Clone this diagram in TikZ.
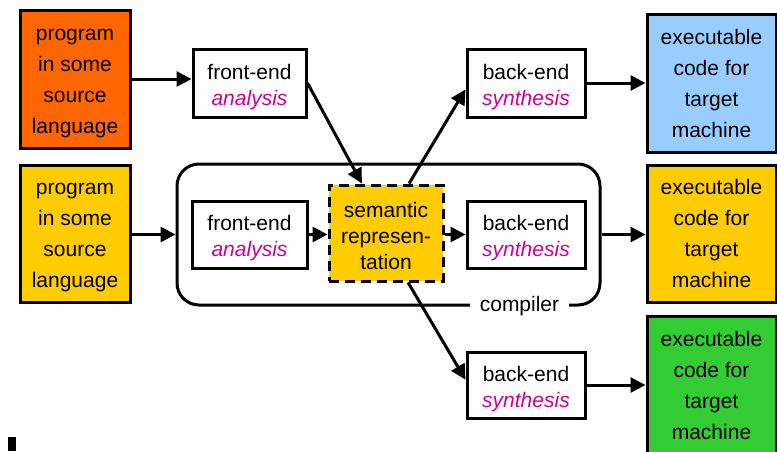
\documentclass[tikz,border=0pt]{standalone}
\usepackage{fontspec}
\setmainfont{Liberation Sans}
\usetikzlibrary{arrows.meta,calc}
\definecolor{srcorange}{HTML}{FF6600}
\definecolor{gold}{HTML}{FFCC00}
\definecolor{skyblue}{HTML}{99CCFF}
\definecolor{leafgreen}{HTML}{33CC33}
\definecolor{mag}{HTML}{CC0099}
\tikzset{
  box/.style={draw=black, line width=3pt, rectangle, inner sep=0pt},
  stage/.style={box, fill=white, minimum width=115pt, minimum height=67pt},
  tall/.style={box, minimum width=110pt, minimum height=138pt},
  target/.style={tall, minimum width=129pt},
  basetxt/.style={align=center, inner sep=0pt, font=\fontsize{21}{26}\selectfont},
  % box labels sit slightly below the geometric centre of their box
  txt/.style={basetxt, yshift=-4pt},
  semtxt/.style={basetxt, yshift=-2.5pt},
  talltxt/.style={basetxt, yshift=-4.5pt, font=\fontsize{21}{31}\selectfont},
  tgttxt/.style={basetxt, font=\fontsize{21}{31}\selectfont},
  arr/.style={line width=3pt, -{Triangle[length=15pt,width=15pt]}},
}
\newcommand{\fe}{front-end\\\textcolor{mag}{\itshape analysis}}
\newcommand{\be}{back-end\\\textcolor{mag}{\itshape synthesis}}
\newcommand{\srctext}{program\\in some\\source\\language}
\newcommand{\tgttext}{executable\\code for\\target\\machine}
\begin{document}
\begin{tikzpicture}[x=1pt,y=-1pt]
\useasboundingbox (0,0) rectangle (777,451);
\clip (0,0) rectangle (777,451);

% compiler frame
\node[draw, line width=3pt, rounded corners=22pt, minimum width=423pt,
      minimum height=141pt, inner sep=0pt] (comp) at (388.5,234.5) {};
\node[fill=white, inner xsep=10pt, inner ysep=2pt,
      font=\fontsize{21}{26}\selectfont] (complabel)
      at ($(comp.south east)+(-82,0)$) {compiler};

% sources
\node[tall, fill=srcorange] (src1) at (75,79) {};
\node[talltxt] (src1t) at (src1.center) {\srctext};
\node[tall, fill=gold, minimum height=137pt] (src2) at (75,233.5) {};
\node[talltxt] (src2t) at (src2.center) {\srctext};

% front-ends
\node[stage, minimum width=113pt, minimum height=68pt] (fe1) at (249.5,83) {};
\node[txt] (fe1t) at (fe1.center) {\fe};
\node[stage] (fe2) at (249.5,234.5) {};
\node[txt] (fe2t) at (fe2.center) {\fe};

% shared semantic representation
\node[box, fill=gold, dash pattern=on 10pt off 6pt, minimum width=114pt,
      minimum height=96pt] (sem) at (386,233) {};
\node[semtxt] (semt) at (sem.center) {semantic\\represen-\\tation};

% back-ends
\node[stage, minimum width=118pt, minimum height=68pt] (be1) at (526,83) {};
\node[txt] (be1t) at (be1.center) {\be};
\node[stage, minimum width=118pt] (be2) at (526,234.5) {};
\node[txt] (be2t) at (be2.center) {\be};
\node[stage, minimum width=118pt, minimum height=66pt] (be3) at (526,385) {};
\node[txt] (be3t) at (be3.center) {\be};

% targets
\node[target, fill=skyblue] (tgt1) at (711.5,83) {};
\node[tgttxt] (tgt1t) at (tgt1.center) {\tgttext};
\node[target, fill=gold, minimum height=137pt] (tgt2) at (711.5,233.5) {};
\node[tgttxt] (tgt2t) at (tgt2.center) {\tgttext};
\node[target, fill=leafgreen] (tgt3) at (711.5,385) {};
\node[tgttxt] (tgt3t) at (tgt3.center) {\tgttext};

% connectors
\draw[arr] (src1.east) -- (src1.east -| fe1.west);
\draw[arr] (fe1.east) -- (sem.116.6);
\draw[arr] (sem.65.4) -- (be1.186);
\draw[arr] (be1.east) -- (be1.east -| tgt1.west);

\draw[arr] (src2.east |- comp.west) -- (comp.west);
\draw[arr] (fe2.east) -- (fe2.east -| sem.west);
\draw[arr] (sem.east |- be2.west) -- (be2.west);
\draw[arr] (comp.east) -- (comp.east -| tgt2.west);

\draw[arr] (sem.294.6) -- (be3.175);
\draw[arr] (be3.east) -- (be3.east -| tgt3.west);

% small marker at lower left
\fill[black] (8,437) rectangle (16,451);
\end{tikzpicture}
\end{document}
